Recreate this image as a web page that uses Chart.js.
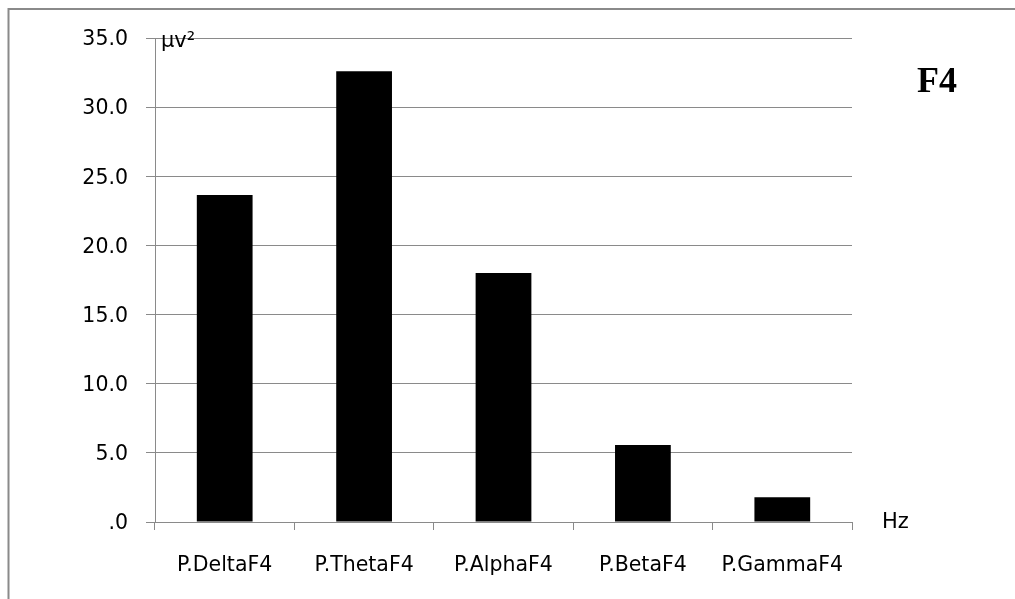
<!DOCTYPE html>
<html>
<head>
<meta charset="utf-8">
<script src="https://cdn.jsdelivr.net/npm/chart.js@4/dist/chart.umd.min.js"></script>
<style>
  html, body { margin: 0; padding: 0; background: #fff; }
  #wrap { width: 1015px; height: 599px; }
</style>
</head>
<body>
<div id="wrap"><canvas id="bandChart" width="1015" height="599"></canvas></div>
<script>
// EEG band power at F4
const bands = ['P.DeltaF4', 'P.ThetaF4', 'P.AlphaF4', 'P.BetaF4', 'P.GammaF4'];
const power = [23.65, 32.6, 18.0, 5.56, 1.79];
const yTicks = [0, 5, 10, 15, 20, 25, 30, 35];

const FONT = '"DejaVu Sans", "Noto Sans", sans-serif';
const GRID = '#8a8a8a';

// frame, panel title and axis unit labels
const extras = {
    id: 'extras',
    afterDraw(chart) {
        const ctx = chart.ctx;
        const area = chart.chartArea;
        ctx.save();
        ctx.strokeStyle = '#8a8a8a';
        ctx.lineWidth = 2;
        ctx.beginPath();
        ctx.moveTo(8.5, 599);
        ctx.lineTo(8.5, 9);
        ctx.lineTo(1015, 9);
        ctx.stroke();

        ctx.fillStyle = '#000';
        ctx.font = 'bold 36px "Liberation Serif", "Times New Roman", serif';
        ctx.textAlign = 'center';
        ctx.textBaseline = 'alphabetic';
        ctx.fillText('F4', 937, 92);

        ctx.font = '21px ' + FONT;
        ctx.textAlign = 'left';
        ctx.fillText('μv²', area.left + 6, area.top + 9);
        ctx.textBaseline = 'middle';
        ctx.fillText('Hz', area.right + 30, area.bottom + 1);
        ctx.restore();
    }
};

new Chart(document.getElementById('bandChart').getContext('2d'), {
    type: 'bar',
    data: {
        labels: bands,
        datasets: [{
            data: power,
            backgroundColor: '#000',
            borderWidth: 0,
            barPercentage: 0.4,
            categoryPercentage: 1.0
        }]
    },
    options: {
        responsive: false,
        animation: false,
        events: [],
        layout: { padding: { left: 0, top: 38, right: 163, bottom: 0 } },
        plugins: { legend: { display: false }, tooltip: { enabled: false } },
        scales: {
            x: {
                grid: { drawOnChartArea: false, drawTicks: true, tickLength: 8, color: GRID, offset: true },
                border: { color: GRID, width: 1 },
                ticks: { color: '#000', font: { family: FONT, size: 20.5 }, padding: 23, maxRotation: 0 },
                afterFit: s => { s.height = 77; }
            },
            y: {
                min: 0,
                max: 35,
                afterBuildTicks: s => { s.ticks = yTicks.map(v => ({ value: v })); },
                grid: { color: GRID, tickLength: 9, lineWidth: 1 },
                border: { color: GRID, width: 1 },
                ticks: {
                    color: '#000',
                    font: { family: FONT, size: 20.5 },
                    padding: 18,
                    labelOffset: 2,
                    callback: v => v === 0 ? '.0' : v.toFixed(1)
                },
                afterFit: s => { s.width = 155; }
            }
        }
    },
    plugins: [extras]
});
</script>
</body>
</html>
